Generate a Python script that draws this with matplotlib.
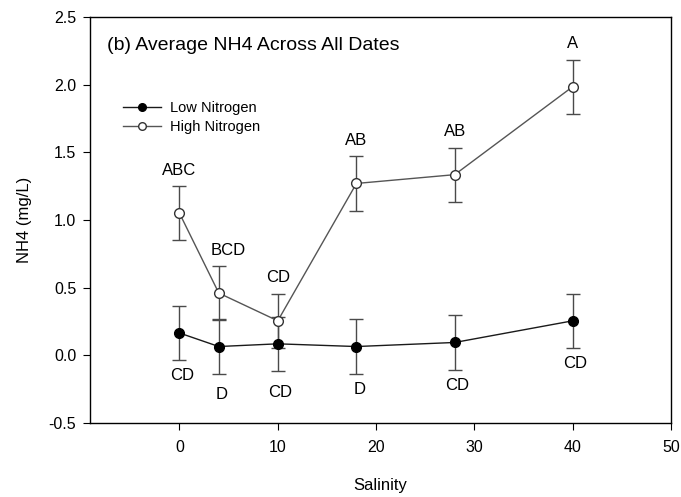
import matplotlib
matplotlib.use('Agg')
import matplotlib.pyplot as plt
from matplotlib.lines import Line2D

plt.rcParams['font.family'] = ['Liberation Sans', 'DejaVu Sans']

# 盐度梯度与两种氮处理下的 NH4 平均值及误差
salinity = [0, 4, 10, 18, 28, 40]
low_mean = [0.165, 0.065, 0.085, 0.065, 0.095, 0.255]
low_err = [0.2, 0.2, 0.2, 0.2, 0.2, 0.2]
high_mean = [1.05, 0.46, 0.255, 1.27, 1.335, 1.985]
high_err = [0.2, 0.2, 0.2, 0.2, 0.2, 0.2]
low_letters = ['CD', 'D', 'CD', 'D', 'CD', 'CD']
high_letters = ['ABC', 'BCD', 'CD', 'AB', 'AB', 'A']

fig = plt.figure(figsize=(6.81, 4.97), dpi=100)
ax = fig.add_axes([0.1322, 0.1489, 0.8531, 0.8169])

ax.errorbar(salinity, low_mean, yerr=low_err, fmt='o-', color='#1a1a1a',
            ecolor='#4a4a4a', elinewidth=1, capsize=5, capthick=1,
            lw=1, ms=7, mfc='black', mec='black', zorder=3)
ax.errorbar(salinity, high_mean, yerr=high_err, fmt='o-', color='#555555',
            ecolor='#4a4a4a', elinewidth=1, capsize=5, capthick=1,
            lw=1, ms=7, mfc='white', mec='#333333', zorder=3)

# 显著性字母：高氮在误差线上方，低氮在误差线下方
for x, m, e, t in zip(salinity, high_mean, high_err, high_letters):
    dx = 7 if t == 'BCD' else 0
    ax.annotate(t, (x, m + e), xytext=(dx, 6), textcoords='offset points',
                ha='center', va='bottom', fontsize=12)
for x, m, e, t in zip(salinity, low_mean, low_err, low_letters):
    dy = -10 if x in (4, 10) else -6
    ax.annotate(t, (x, m - e), xytext=(2, dy), textcoords='offset points',
                ha='center', va='top', fontsize=12)

ax.set_xlim(-9.1, 50)
ax.set_ylim(-0.5, 2.5)
ax.set_xticks([0, 10, 20, 30, 40, 50])
ax.set_yticks([-0.5, 0.0, 0.5, 1.0, 1.5, 2.0, 2.5])
ax.set_yticklabels(['-0.5', '0.0', '0.5', '1.0', '1.5', '2.0', '2.5'])
ax.tick_params(direction='out', length=5, labelsize=11.5)
ax.tick_params(axis='x', pad=7)
ax.tick_params(axis='y', pad=5)
for s in ax.spines.values():
    s.set_linewidth(1)

ax.set_xlabel('Salinity', fontsize=12, labelpad=17)
ax.set_ylabel('NH4 (mg/L)', fontsize=12, labelpad=12)

ax.text(0.03, 0.93, '(b) Average NH4 Across All Dates', transform=ax.transAxes,
        fontsize=14, va='center', ha='left')

# 图例只显示线和点，不带误差线
handles = [
    Line2D([], [], color='#1a1a1a', lw=1, marker='o', ms=5.5, mfc='black', mec='black'),
    Line2D([], [], color='#555555', lw=1, marker='o', ms=5.5, mfc='white', mec='#333333'),
]
ax.legend(handles, ['Low Nitrogen', 'High Nitrogen'], loc='upper left',
          bbox_to_anchor=(0.035, 0.825), frameon=False, fontsize=10.5,
          handlelength=2.6, handletextpad=0.6, labelspacing=0.35)

fig.savefig('out.png', dpi=100)
